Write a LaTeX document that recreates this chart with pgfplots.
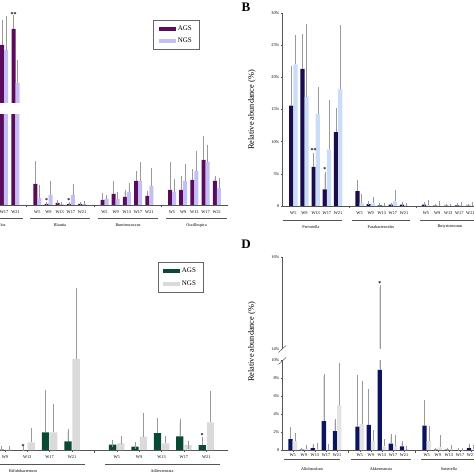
\documentclass[border=0pt]{standalone}
\usepackage{pgfplots}
\pgfplotsset{compat=1.18}
\usepackage{fontspec}
\setmainfont{Liberation Serif}
\definecolor{aA}{HTML}{5B0B5B}
\definecolor{nA}{HTML}{C3BEF5}
\definecolor{aB}{HTML}{1B0C4E}
\definecolor{nB}{HTML}{C9DDF7}
\definecolor{aC}{HTML}{0A4A33}
\definecolor{nC}{HTML}{DADADA}
\definecolor{aD}{HTML}{0B1461}
\definecolor{nD}{HTML}{E3E3E3}
\definecolor{ebc}{HTML}{9A9A9A}
\definecolor{axc}{HTML}{555555}
\newcommand{\tfont}{\fontsize{4.3}{4.3}\selectfont}
\newcommand{\gfont}{\fontsize{4.2}{4.2}\selectfont}
\newcommand{\sfont}{\fontsize{6}{6}\selectfont\bfseries}
\pgfplotsset{
  panel/.style={
    scale only axis, clip mode=individual,
    axis line style={-, line width=0.5pt, draw=axc},
    tick style={line width=0.4pt, draw=axc},
    tick align=outside, major tick length=1.5pt,
    xticklabel style={font=\tfont, inner sep=0.5pt},
    yticklabel style={font=\tfont, inner sep=1pt},
    extra x tick style={major tick length=2.5pt},
    extra x tick labels={},
    legend image code/.code={\fill[##1] (0pt,-2pt) rectangle (17pt,2pt);},
  },
  eb/.style={error bars/.cd, y dir=plus, y explicit,
    error bar style={line width=0.5pt, draw=ebc},
    error mark options={line width=0.5pt, draw=ebc, mark size=#1}},
  eb/.default=2pt,
  bb/.style={ybar, bar shift=0pt, bar width=#1, draw=none},
}
\begin{document}
\begin{tikzpicture}[x=1pt,y=1pt]
\useasboundingbox (0,0) rectangle (474,474);
\clip (0,0) rectangle (474,474);
% ================= Panel A (upper part of broken axis)
\begin{axis}[panel, hide axis, at={(-20pt,371pt)}, anchor=south west,
  width=248pt, height=103pt, xmin=-20, xmax=228, ymin=100, ymax=203]
\addplot[bb=4pt, fill=aA, eb] coordinates {(2,158) +- (0,23) (13.5,174) +- (0,12)};
\addplot[bb=4pt, fill=nA, eb] coordinates {(6,153) +- (0,32) (17.5,120) +- (0,21)};
\node[font=\sfont] at (axis cs:13.5,188) {**};
\end{axis}
% ================= Panel A (lower part)
\begin{axis}[panel, axis x line*=bottom, axis y line=none, at={(-20pt,269pt)}, anchor=south west,
  width=248pt, height=90pt, xmin=-20, xmax=228, ymin=0, ymax=90,
  xticklabel style={yshift=-3.5pt},
  xtick={4,15.5,37.3,48.5,59.7,70.9,82.1,104.5,115.7,126.9,138.1,149.3,172,183.2,194.4,205.6,216.8},
  xticklabels={W17,W21,W5,W9,W13,W17,W21,W5,W9,W13,W17,W21,W5,W9,W13,W17,W21},
  extra x ticks={26.5,94,161.5},
  legend cell align=left,
  legend style={at={(0.6976,2.0556)}, anchor=north west, draw=black!60, line width=0.5pt,
    font=\fontsize{7}{7}\selectfont, inner xsep=5.5pt, inner ysep=3.5pt, row sep=2pt},
]
\addlegendimage{fill=aA, draw=none}
\addlegendimage{fill=nA, draw=none}
\addplot[bb=4pt, fill=aA, eb] coordinates {
 (2,158) +- (0,23) (13.5,174) +- (0,12)
 (35.3,21) +- (0,21) (46.5,1) +- (0,0) (57.7,2) +- (0,1) (68.9,1) +- (0,0) (80.1,1) +- (0,0)
 (102.5,5) +- (0,5) (113.7,11) +- (0,11) (124.9,8) +- (0,5) (136.1,24) +- (0,8) (147.3,9) +- (0,3)
 (170,15) +- (0,26) (181.2,15) +- (0,12) (192.4,25) +- (0,9) (203.6,45) +- (0,22) (214.8,24) +- (0,3)};
\addplot[bb=4pt, fill=nA, eb] coordinates {
 (6,153) +- (0,32) (17.5,120) +- (0,21)
 (39.3,7) +- (0,11) (50.5,10) +- (0,12) (61.7,1) +- (0,0) (72.9,10) +- (0,9) (84.1,1) +- (0,1)
 (106.5,6) +- (0,2) (117.7,6) +- (0,5) (128.9,13) +- (0,7) (140.1,24) +- (0,17) (151.3,19) +- (0,16)
 (174,13) +- (0,11) (185.2,24) +- (0,15) (196.4,34) +- (0,18) (207.6,43) +- (0,15) (218.8,17) +- (0,8)};
\legend{AGS,NGS}
\node[font=\sfont] at (axis cs:46.5,4) {*};
\node[font=\sfont] at (axis cs:68.9,4) {*};
\end{axis}
% ================= Panel B
\begin{axis}[panel, axis x line*=bottom, axis y line*=left, at={(282pt,268pt)}, anchor=south west,
  width=198pt, height=193pt, xmin=282, xmax=480, ymin=0, ymax=30,
  xticklabel style={yshift=-3.5pt},
  ytick={0,5,10,15,20,25,30}, yticklabels={0,5\%,10\%,15\%,20\%,25\%,30\%},
  xtick={293.3,304.5,315.7,326.9,338.1,359.6,370.7,381.8,392.9,404,426,437.1,448.2,459.3,470.4},
  xticklabels={W5,W9,W13,W17,W21,W5,W9,W13,W17,W21,W5,W9,W13,W17,W21},
  extra x ticks={349,415.7},
]
\addplot[bb=4.2pt, fill=aB, eb] coordinates {
 (291.2,15.6) +- (0,5.8) (302.4,21.3) +- (0,5.1) (313.6,6.1) +- (0,1.9) (324.8,2.6) +- (0,2.3) (336,11.5) +- (0,3.4)
 (357.5,2.3) +- (0,1.4) (368.6,0.3) +- (0,0.1) (379.7,0.1) +- (0,0) (390.8,0.2) +- (0,0) (401.9,0.2) +- (0,0.05)
 (423.9,0.2) +- (0,0.05) (435,0.05) +- (0,0) (446.1,0.05) +- (0,0) (457.2,0.1) +- (0,0) (468.3,0.05) +- (0,0)};
\addplot[bb=4.2pt, fill=nB, eb] coordinates {
 (295.4,22) +- (0,4.3) (306.6,17) +- (0,11) (317.8,14.3) +- (0,3.9) (329,8.8) +- (0,7.3) (340.2,18.2) +- (0,9.6)
 (361.7,0.5) +- (0,1.1) (372.8,0.4) +- (0,0.7) (383.9,0.1) +- (0,0.05) (395,0.7) +- (0,1.4) (406.1,0.1) +- (0,0.1)
 (428.1,0.1) +- (0,0.5) (439.2,0.05) +- (0,0.35) (450.3,0.05) +- (0,0) (461.4,0.1) +- (0,0.2) (472.5,0.05) +- (0,0.2)};
\node[font=\sfont] at (axis cs:313.6,8.7) {**};
\node[font=\sfont] at (axis cs:324.8,5.6) {*};
\end{axis}
% ================= Panel C
\begin{axis}[panel, axis x line*=bottom, axis y line=none, at={(-30pt,24pt)}, anchor=south west,
  width=258pt, height=200pt, xmin=-30, xmax=228, ymin=0, ymax=200,
  xticklabel style={yshift=-3.5pt},
  xtick={4.9,27.2,49.6,72,116.7,139.1,161.5,183.9,206.3},
  xticklabels={W9,W13,W17,W21,W5,W9,W13,W17,W21},
  extra x ticks={94.3},
  legend cell align=left,
  legend style={at={(0.7275,0.9385)}, anchor=north west, draw=black!60, line width=0.5pt,
    font=\fontsize{7}{7}\selectfont, inner xsep=5pt, inner ysep=3pt, row sep=3pt},
]
\addlegendimage{fill=aC, draw=none}
\addlegendimage{fill=nC, draw=none}
\addplot[bb=7.3pt, fill=aC, eb=3.6pt] coordinates {
 (0.8,0.5) +- (0,0) (23.1,0) +- (0,0) (45.5,17.7) +- (0,39) (67.9,8.7) +- (0,9)
 (112.6,5.3) +- (0,1.4) (135,3.3) +- (0,1) (157.4,17) +- (0,11.7) (179.8,13.7) +- (0,14) (202.2,5) +- (0,4.3)};
\addplot[bb=7.3pt, fill=nC, eb=3.6pt] coordinates {
 (9,0.4) +- (0,0) (31.3,7.7) +- (0,10.6) (53.7,17.7) +- (0,24.3) (76.1,91) +- (0,67.7)
 (120.8,6.7) +- (0,3.3) (143.2,13.3) +- (0,20.4) (165.6,6.7) +- (0,4) (188,5) +- (0,0) (210.4,27.7) +- (0,27.3)};
\legend{AGS,NGS}
\node[font=\sfont] at (axis cs:23.1,3.5) {*};
\node[font=\sfont] at (axis cs:202.2,14) {*};
\end{axis}
% ================= Panel D (upper)
\begin{axis}[panel, axis x line=none, axis y line*=left, at={(282pt,125pt)}, anchor=south west,
  width=198pt, height=92pt, xmin=282, xmax=480, ymin=14, ymax=16,
  ytick={14,16}, yticklabels={14\%,16\%}]
\addplot[bb=4.3pt, fill=aD, eb] coordinates {(379.75,8.9) +- (0,6.45)};
\node[font=\sfont] at (axis cs:379.75,15.42) {*};
\end{axis}
% ================= Panel D (lower)
\begin{axis}[panel, axis x line*=bottom, axis y line*=left, at={(282pt,24pt)}, anchor=south west,
  width=198pt, height=90pt, xmin=282, xmax=480, ymin=0, ymax=10,
  xticklabel style={yshift=-1pt},
  ytick={0,2,4,6,8,10}, yticklabels={0,2\%,4\%,6\%,8\%,10\%},
  xtick={292.7,303.8,314.9,326,337.1,359.7,370.8,381.9,393,404.1,426.7,437.8,448.9,460,471.1},
  xticklabels={W5,W9,W13,W17,W21,W5,W9,W13,W17,W21,W5,W9,W13,W17,W21},
  extra x ticks={348.5,415.5},
]
\addplot[bb=4.3pt, fill=aD, eb] coordinates {
 (290.55,1.2) +- (0,1.1) (301.65,0.05) +- (0,0) (312.75,0.2) +- (0,0.3) (323.85,3.2) +- (0,5.0) (334.95,2.1) +- (0,1.1)
 (357.55,2.6) +- (0,5.5) (368.65,2.8) +- (0,3.8) (379.75,8.9) +- (0,6.45) (390.85,0.7) +- (0,0.8) (401.95,0.4) +- (0,0.4)
 (424.55,2.7) +- (0,2.6) (435.65,0.05) +- (0,0) (446.75,0.05) +- (0,0) (457.85,0) +- (0,0) (468.95,0.2) +- (0,0.3)};
\addplot[bb=4.3pt, fill=nD, eb] coordinates {
 (294.85,1.0) +- (0,0.7) (305.95,0.1) +- (0,0.2) (317.05,0.1) +- (0,0.5) (328.15,0.05) +- (0,0.45) (339.25,5.0) +- (0,4.5)
 (361.85,2.9) +- (0,4.6) (372.95,1.0) +- (0,1.0) (384.05,0.4) +- (0,0.6) (395.15,0.5) +- (0,0.9) (406.25,0.1) +- (0,0.1)
 (428.85,1.0) +- (0,1.4) (439.95,0.3) +- (0,1.1) (451.05,0.1) +- (0,0.2) (462.15,0) +- (0,0) (473.25,0.1) +- (0,0.2)};
\end{axis}
% ================= decorations: group lines and labels, panel letters, y labels
\begin{scope}[line width=0.5pt]
\draw[axc] (-5,256) -- (23,256);
\draw[axc] (30,256) -- (90,256);
\draw[axc] (98,256) -- (158,256);
\draw[axc] (166,256) -- (227,256);
\draw[axc] (283,254) -- (342,254);
\draw[axc] (352,254) -- (410,254);
\draw[axc] (420,254) -- (480,254);
\draw[axc] (-5,10) -- (85,10);
\draw[axc] (105,10) -- (220,10);
\draw[axc] (284,15) -- (340,15);
\draw[axc] (351,15) -- (411,15);
\draw[axc] (421,15) -- (480,15);
\draw[axc] (278.5,121.5) -- (286,128.5);
\draw[axc] (278.5,109.5) -- (286,116.5);
\end{scope}
\begin{scope}[font=\gfont]
\node[anchor=east] at (9,249) {Lactobacillus};
\node at (60,249) {Blautia};
\node at (128,249) {Ruminococcus};
\node at (196.5,249) {Oscillospira};
\node at (311,247) {Prevotella};
\node at (381,247) {Parabacteroides};
\node at (450,247) {Butyricimonas};
\node at (23,3) {Bifidobacterium};
\node at (162,3) {Adlercreutzia};
\node at (312,5) {Allobaculum};
\node at (381,5) {Akkermansia};
\node at (449,5) {Sutterella};
\end{scope}
\node[font=\fontsize{13}{13}\selectfont\bfseries] at (246,466.5) {B};
\node[font=\fontsize{13}{13}\selectfont\bfseries] at (246,230) {D};
\node[rotate=90, font=\fontsize{8.3}{8.3}\selectfont] at (252,364) {Relative abundance (\%)};
\node[rotate=90, font=\fontsize{8.3}{8.3}\selectfont] at (252,132) {Relative abundance (\%)};
\end{tikzpicture}
\end{document}
